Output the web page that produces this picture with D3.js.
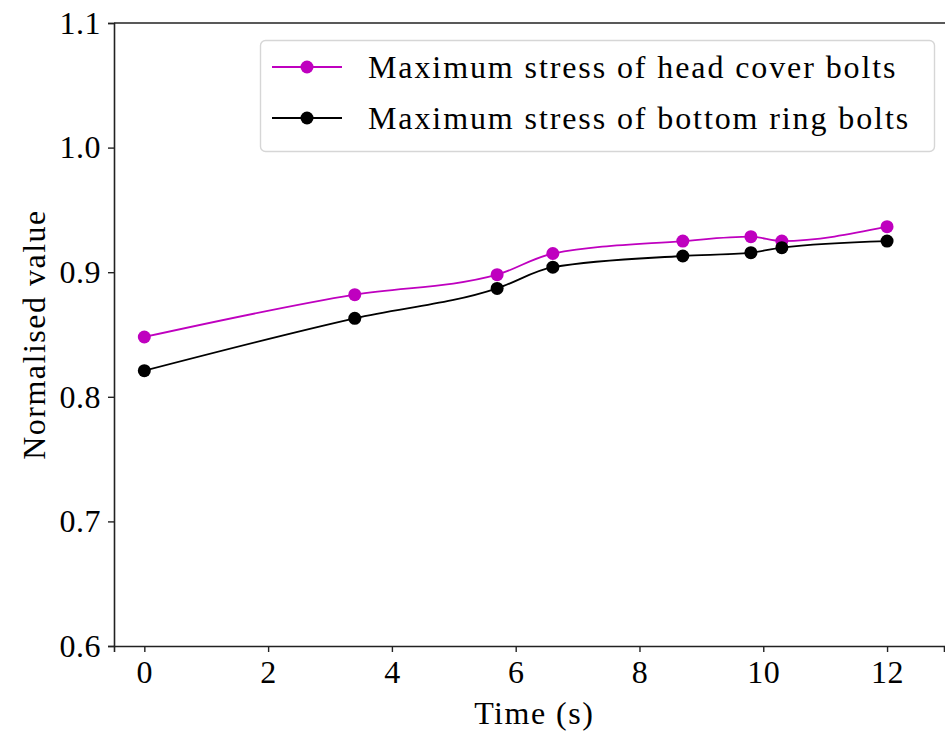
<!DOCTYPE html>
<html>
<head>
<meta charset="utf-8">
<script src="https://cdn.jsdelivr.net/npm/d3@7"></script>
<style>
  body { margin: 0; background: #fff; }
  svg { font-family: "Liberation Serif", "DejaVu Serif", serif; }
</style>
</head>
<body>
<svg id="chart"></svg>
<script>
// Data
const time = [0, 3.4, 5.7, 6.6, 8.7, 9.8, 10.3, 12];
const headCover = [0.848, 0.882, 0.898, 0.915, 0.925, 0.9285, 0.925, 0.9365];
const bottomRing = [0.821, 0.863, 0.887, 0.904, 0.913, 0.9157, 0.9197, 0.925];
const xTicks = [0, 2, 4, 6, 8, 10, 12];
const yTicks = [0.6, 0.7, 0.8, 0.9, 1.0, 1.1];

const series = [
    {name: "Maximum stress of head cover bolts", color: "#bf00bf", values: headCover},
    {name: "Maximum stress of bottom ring bolts", color: "#000000", values: bottomRing}
];

const width = 945;
const height = 731;
const margin = {top: 23, right: 1, bottom: 85, left: 114};
const fontSize = "32px";

const svg = d3.select("#chart")
    .attr("width", width)
    .attr("height", height)
    .attr("viewBox", [0, 0, width, height]);

const x = d3.scaleLinear()
    .domain([-0.49, 12.92])
    .range([margin.left, width - margin.right]);

const y = d3.scaleLinear()
    .domain([0.6, 1.1])
    .range([height - margin.bottom, margin.top]);

// Axes
const xAxis = svg.append("g")
    .attr("transform", `translate(0,${height - margin.bottom})`)
    .call(d3.axisBottom(x).tickValues(xTicks).tickSize(6).tickPadding(4).tickFormat(d3.format("d")));

const yAxis = svg.append("g")
    .attr("transform", `translate(${margin.left},0)`)
    .call(d3.axisLeft(y).tickValues(yTicks).tickSize(6).tickPadding(7).tickFormat(d3.format(".1f")));

[xAxis, yAxis].forEach(g => {
    g.select(".domain").attr("stroke", "#222").attr("stroke-width", 1.6);
    g.selectAll(".tick line").attr("stroke", "#222").attr("stroke-width", 1.4);
    g.selectAll(".tick text")
        .attr("fill", "#000")
        .style("font-family", '"Liberation Serif", serif')
        .style("font-size", fontSize)
        .style("letter-spacing", "0.5px");
});
xAxis.selectAll(".tick text").attr("dy", "0.85em");

// top spine
svg.append("line")
    .attr("x1", margin.left).attr("x2", width)
    .attr("y1", y(1.1)).attr("y2", y(1.1))
    .attr("stroke", "#222").attr("stroke-width", 1.6);

// Axis labels
svg.append("text")
    .attr("x", x(6.3))
    .attr("y", 724)
    .attr("text-anchor", "middle")
    .style("font-size", fontSize)
    .style("letter-spacing", "1.5px")
    .text("Time (s)");

svg.append("text")
    .attr("transform", `translate(45,${y(0.85)}) rotate(-90)`)
    .attr("text-anchor", "middle")
    .style("font-size", fontSize)
    .style("letter-spacing", "1.5px")
    .text("Normalised value");

// Lines and markers
const line = d3.line()
    .x((d, i) => x(time[i]))
    .y(d => y(d))
    .curve(d3.curveMonotoneX);

series.forEach(s => {
    svg.append("path")
        .attr("d", line(s.values))
        .attr("fill", "none")
        .attr("stroke", s.color)
        .attr("stroke-width", 1.8);

    svg.append("g")
        .selectAll("circle")
        .data(s.values)
        .join("circle")
            .attr("cx", (d, i) => x(time[i]))
            .attr("cy", d => y(d))
            .attr("r", 6.5)
            .attr("fill", s.color);
});

// Legend
const legend = svg.append("g");
legend.append("rect")
    .attr("x", 260.5).attr("y", 40.5)
    .attr("width", 674).attr("height", 111)
    .attr("rx", 5)
    .attr("fill", "#fff").attr("fill-opacity", 0.8)
    .attr("stroke", "#d6d6d6").attr("stroke-width", 1.4);

series.forEach((s, i) => {
    const ly = 67 + i * 51;
    legend.append("line")
        .attr("x1", 272).attr("x2", 342)
        .attr("y1", ly).attr("y2", ly)
        .attr("stroke", s.color).attr("stroke-width", 1.8);
    legend.append("circle")
        .attr("cx", 307).attr("cy", ly).attr("r", 6.5)
        .attr("fill", s.color);
    legend.append("text")
        .attr("x", 368).attr("y", ly)
        .attr("dy", "0.33em")
        .style("font-size", fontSize)
        .style("letter-spacing", "1.9px")
        .text(s.name);
});
</script>
</body>
</html>
